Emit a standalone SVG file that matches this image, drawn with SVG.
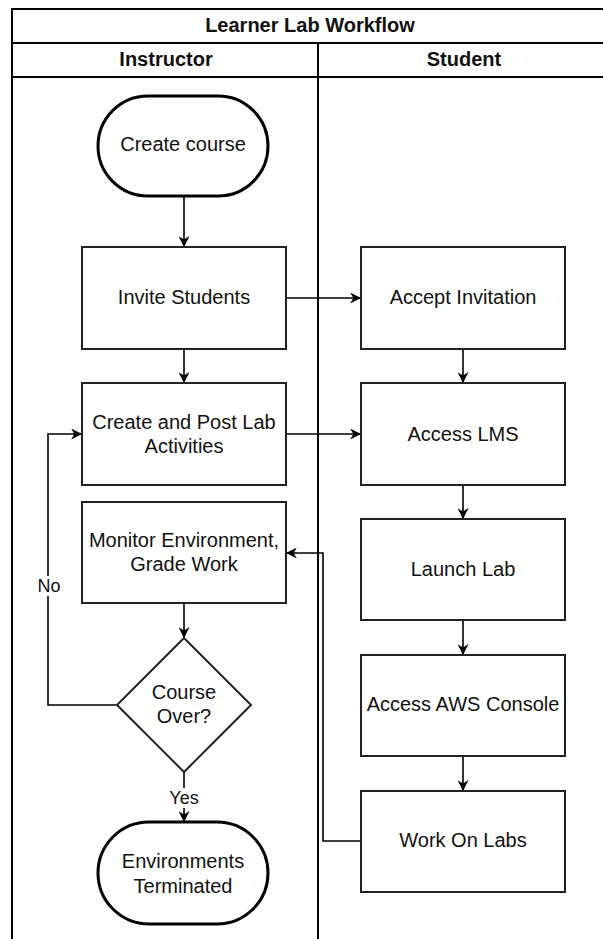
<svg xmlns="http://www.w3.org/2000/svg" width="603" height="939" viewBox="0 0 603 939">
  <defs>
    <style>
      .pool { fill: none; stroke: #000; stroke-width: 2; }
      .box { fill: #fff; stroke: #222; stroke-width: 2; }
      .term { fill: #fff; stroke: #000; stroke-width: 3; }
      .edge { fill: none; stroke: #000; stroke-width: 1.6; }
      .t { font-family: "Liberation Sans", Arial, sans-serif; font-size: 20px; fill: #111; text-anchor: middle; }
      .h { font-family: "Liberation Sans", Arial, sans-serif; font-size: 20px; font-weight: bold; fill: #111; text-anchor: middle; }
      .lbl { font-family: "Liberation Sans", Arial, sans-serif; font-size: 18px; fill: #111; text-anchor: middle; }
    </style>
    <marker id="arr" viewBox="0 0 10 10" refX="9" refY="5" markerWidth="11" markerHeight="11" markerUnits="userSpaceOnUse" orient="auto">
      <path d="M0,0 L10,5 L0,10 L3,5 Z" fill="#000"/>
    </marker>
  </defs>

  <g id="pool">
    <rect class="pool" x="12" y="9" width="620" height="950"/>
    <line class="pool" x1="12" y1="43" x2="632" y2="43"/>
    <line class="pool" x1="12" y1="77" x2="632" y2="77"/>
    <line class="pool" x1="318" y1="43" x2="318" y2="959"/>
    <text class="h" x="310" y="32">Learner Lab Workflow</text>
    <text class="h" x="166" y="66">Instructor</text>
    <text class="h" x="464" y="66">Student</text>
  </g>

  <g id="connectors">
    <line class="edge" x1="184" y1="196" x2="184" y2="246" marker-end="url(#arr)"/>
    <line class="edge" x1="286" y1="298" x2="360" y2="298" marker-end="url(#arr)"/>
    <line class="edge" x1="184" y1="349" x2="184" y2="382" marker-end="url(#arr)"/>
    <line class="edge" x1="286" y1="434" x2="360" y2="434" marker-end="url(#arr)"/>
    <line class="edge" x1="463" y1="349" x2="463" y2="382" marker-end="url(#arr)"/>
    <line class="edge" x1="463" y1="485" x2="463" y2="518" marker-end="url(#arr)"/>
    <line class="edge" x1="463" y1="620" x2="463" y2="654" marker-end="url(#arr)"/>
    <line class="edge" x1="463" y1="756" x2="463" y2="790" marker-end="url(#arr)"/>
    <polyline class="edge" points="361,841 323,841 323,553 287,553" marker-end="url(#arr)"/>
    <line class="edge" x1="184" y1="603" x2="184" y2="637" marker-end="url(#arr)"/>
    <polyline class="edge" points="117,705 48,705 48,434 81,434" marker-end="url(#arr)"/>
    <line class="edge" x1="184" y1="772" x2="184" y2="821" marker-end="url(#arr)"/>
    <rect x="36" y="576" width="26" height="20" fill="#fff"/>
    <text class="lbl" x="49" y="592">No</text>
    <rect x="166" y="788" width="36" height="20" fill="#fff"/>
    <text class="lbl" x="184" y="804">Yes</text>
  </g>

  <g id="create-course">
    <rect class="term" x="98" y="96" width="170" height="100" rx="50" ry="50"/>
    <text class="t" x="183" y="151">Create course</text>
  </g>
  <g id="invite-students">
    <rect class="box" x="82" y="247" width="204" height="102"/>
    <text class="t" x="184" y="304">Invite Students</text>
  </g>
  <g id="accept-invitation">
    <rect class="box" x="361" y="247" width="204" height="102"/>
    <text class="t" x="463" y="304">Accept Invitation</text>
  </g>
  <g id="create-post">
    <rect class="box" x="82" y="383" width="204" height="102"/>
    <text class="t" x="184" y="429">Create and Post Lab</text>
    <text class="t" x="184" y="453">Activities</text>
  </g>
  <g id="access-lms">
    <rect class="box" x="361" y="383" width="204" height="102"/>
    <text class="t" x="463" y="441">Access LMS</text>
  </g>
  <g id="monitor">
    <rect class="box" x="82" y="502" width="204" height="101"/>
    <text class="t" x="184" y="547">Monitor Environment,</text>
    <text class="t" x="184" y="571">Grade Work</text>
  </g>
  <g id="launch-lab">
    <rect class="box" x="361" y="519" width="204" height="101"/>
    <text class="t" x="463" y="576">Launch Lab</text>
  </g>
  <g id="access-aws">
    <rect class="box" x="361" y="655" width="204" height="101"/>
    <text class="t" x="463" y="711">Access AWS Console</text>
  </g>
  <g id="work-on-labs">
    <rect class="box" x="361" y="791" width="204" height="101"/>
    <text class="t" x="463" y="847">Work On Labs</text>
  </g>
  <g id="course-over">
    <polygon class="box" points="184,638 251,705 184,772 117,705"/>
    <text class="t" x="184" y="699">Course</text>
    <text class="t" x="184" y="723">Over?</text>
  </g>
  <g id="env-terminated">
    <rect class="term" x="98" y="822" width="170" height="102" rx="51" ry="51"/>
    <text class="t" x="183" y="868">Environments</text>
    <text class="t" x="183" y="893">Terminated</text>
  </g>
</svg>
